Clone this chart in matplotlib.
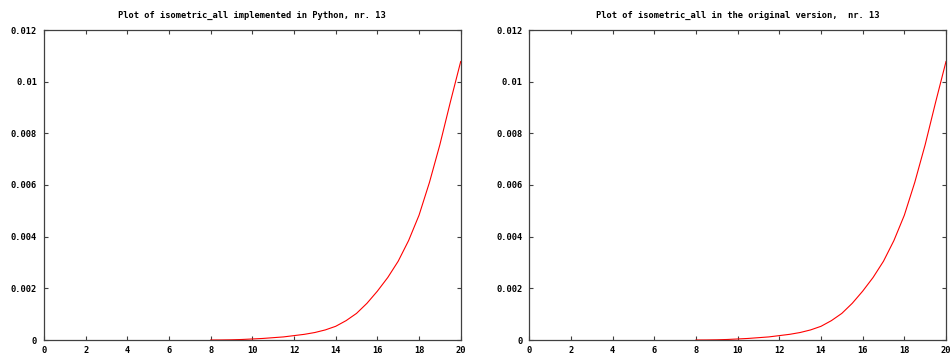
import matplotlib
matplotlib.use('Agg')
import matplotlib.pyplot as plt
from matplotlib.ticker import FixedLocator, FixedFormatter

# values (both panels show the same curve)
x_vals = [8, 8.5, 9, 9.5, 10, 10.5, 11, 11.5, 12, 12.5, 13, 13.5, 14,
          14.5, 15, 15.5, 16, 16.5, 17, 17.5, 18, 18.5, 19, 19.5, 20]
y_python = [0.0, 0.000002, 0.000008, 0.00002, 0.00004, 0.00006, 0.00009,
            0.00012, 0.00017, 0.00022, 0.00029, 0.00039, 0.00053, 0.00075,
            0.00103, 0.00142, 0.00189, 0.00242, 0.00305, 0.00385, 0.00483,
            0.0061, 0.00756, 0.0092, 0.01078]
y_original = [0.0, 0.000002, 0.000008, 0.00002, 0.00004, 0.00006, 0.00009,
              0.00012, 0.00017, 0.00022, 0.00029, 0.00039, 0.00053, 0.00075,
              0.00103, 0.00142, 0.00189, 0.00242, 0.00305, 0.00385, 0.00483,
              0.0061, 0.00756, 0.0092, 0.01078]

titles = ["Plot of isometric_all implemented in Python, nr. 13",
          "Plot of isometric_all in the original version,  nr. 13"]
x_ticks = [0, 2, 4, 6, 8, 10, 12, 14, 16, 18, 20]
y_ticks = [0, 0.002, 0.004, 0.006, 0.008, 0.01, 0.012]
y_tick_labels = ["0", "0.002", "0.004", "0.006", "0.008", "0.01", "0.012"]

font = {'family': 'DejaVu Sans Mono', 'weight': 'bold', 'size': 6.3}

fig = plt.figure(figsize=(9.52, 3.58), dpi=100)
ax1 = fig.add_axes([44 / 952, 18 / 358, 416.7 / 952, 310 / 358])
ax2 = fig.add_axes([529.3 / 952, 18 / 358, 416.7 / 952, 310 / 358])

for ax, ys, title in [(ax1, y_python, titles[0]), (ax2, y_original, titles[1])]:
    ax.plot(x_vals, ys, color='#ff0000', linewidth=0.8)
    ax.set_xlim(0, 20)
    ax.set_ylim(0, 0.012)
    ax.xaxis.set_major_locator(FixedLocator(x_ticks))
    ax.set_xticklabels([str(t) for t in x_ticks], fontdict=font)
    ax.yaxis.set_major_locator(FixedLocator(y_ticks))
    ax.yaxis.set_major_formatter(FixedFormatter(y_tick_labels))
    for lab in ax.get_yticklabels():
        lab.set_fontfamily('DejaVu Sans Mono')
        lab.set_fontweight('bold')
        lab.set_fontsize(6.3)
    ax.tick_params(direction='in', length=3, width=0.8, color='#404040',
                   top=True, right=True, labelcolor='black')
    ax.tick_params(axis='x', pad=4)
    ax.tick_params(axis='y', pad=5)
    for s in ax.spines.values():
        s.set_color('#404040')
        s.set_linewidth(0.9)
    ax.set_title(title, fontdict=font, pad=9)

fig.savefig('out.png', dpi=100)
